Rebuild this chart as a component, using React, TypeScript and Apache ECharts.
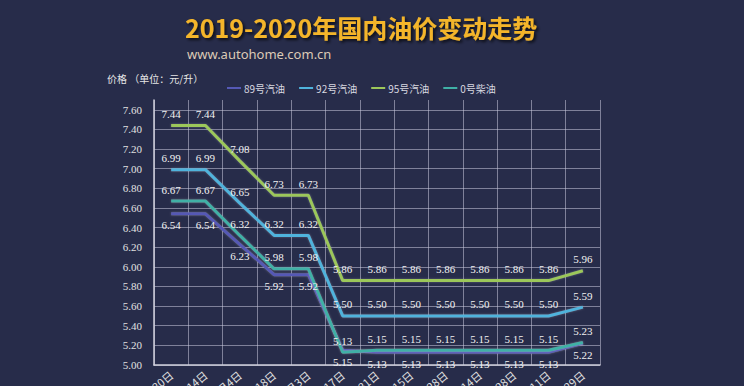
import React, { useEffect, useRef } from "react";
import * as echarts from "echarts";

const categories = ["12月30日", "1月14日", "2月4日", "2月18日", "3月3日", "3月17日", "3月31日", "4月15日", "4月28日", "5月14日", "5月28日", "6月11日", "6月29日"];
const gas89 = [6.54, 6.54, 6.23, 5.92, 5.92, 5.15, 5.13, 5.13, 5.13, 5.13, 5.13, 5.13, 5.22];
const gas92 = [6.99, 6.99, 6.65, 6.32, 6.32, 5.5, 5.5, 5.5, 5.5, 5.5, 5.5, 5.5, 5.59];
const gas95 = [7.44, 7.44, 7.08, 6.73, 6.73, 5.86, 5.86, 5.86, 5.86, 5.86, 5.86, 5.86, 5.96];
const diesel0 = [6.67, 6.67, 6.32, 5.98, 5.98, 5.13, 5.15, 5.15, 5.15, 5.15, 5.15, 5.15, 5.23];
const seriesNames = ["89号汽油", "92号汽油", "95号汽油", "0号柴油"];
const yTicks = { min: 5.0, max: 7.7, interval: 0.2 };

const colors = ["#5559b5", "#4fb3dc", "#9cc75a", "#3fb0a6"];

export default function App() {
  const ref = useRef<HTMLDivElement>(null);
  useEffect(() => {
    document.body.style.margin = "0";
    document.body.style.background = "#272c4a";
    const chart = echarts.init(ref.current!, null, { renderer: "svg" });
    const mk = (name: string, data: number[], color: string, pos: string) => ({
      name,
      type: "line",
      data,
      symbol: "circle",
      symbolSize: 0,
      showSymbol: true,
      itemStyle: { color },
      lineStyle: { color, width: 3, shadowColor: "rgba(255,255,255,0.25)", shadowBlur: 2 },
      label: {
        show: true,
        position: pos,
        distance: 6,
        color: "#f2f2f2",
        fontSize: 11,
        fontFamily: "Liberation Serif",
        formatter: (p: any) => Number(p.value).toFixed(2),
      },
      emphasis: { disabled: true },
    });
    chart.setOption({
      animation: false,
      backgroundColor: "#272c4a",
      title: [
        {
          text: "2019-2020年国内油价变动走势",
          left: 180,
          top: 8,
          textStyle: {
            color: "#f4b52a",
            fontSize: 25,
            fontWeight: "bold",
            fontFamily: "Noto Sans CJK SC",
            lineHeight: 28,
            textShadowColor: "rgba(0,0,0,0.7)",
            textShadowBlur: 3,
            textShadowOffsetX: 2,
            textShadowOffsetY: 2,
          },
        },
        {
          text: "www.autohome.com.cn",
          left: 182,
          top: 42,
          textStyle: { color: "#dccab6", fontSize: 13, fontWeight: "normal", fontFamily: "Noto Sans" },
        },
      ],
      graphic: [
        {
          type: "text",
          left: 107,
          top: 73,
          style: { text: "价格 （单位：元/升）", fill: "#e6e6e6", fontSize: 10, fontFamily: "Noto Sans CJK SC" },
        },
      ],
      legend: {
        top: 78,
        left: 222,
        itemGap: 14,
        itemWidth: 14,
        itemHeight: 2,
        icon: "rect",
        textStyle: { color: "#d8d8e0", fontSize: 10, fontFamily: "Noto Sans CJK SC", padding: [0, 0, 0, -2] },
        data: seriesNames,
      },
      grid: { left: 154, right: 144, top: 100, bottom: 21, containLabel: false, outerBoundsMode: "none" },
      xAxis: {
        type: "category",
        data: categories,
        boundaryGap: true,
        axisLine: { show: true, lineStyle: { color: "#d0d0dc", width: 1.5 } },
        axisTick: { show: false },
        splitLine: { show: true, lineStyle: { color: "rgba(200,200,220,0.55)", width: 1 } },
        axisLabel: { color: "#e0e0e0", fontSize: 11, rotate: 40, margin: 8, interval: 0, fontFamily: "Noto Sans CJK SC" },
      },
      yAxis: {
        type: "value",
        min: yTicks.min,
        max: yTicks.max,
        interval: yTicks.interval,
        axisLine: { show: true, lineStyle: { color: "#d0d0dc", width: 1.5 } },
        axisTick: { show: false },
        splitLine: { show: true, showMaxLine: false, lineStyle: { color: "rgba(200,200,220,0.55)", width: 1 } },
        axisLabel: {
          color: "#e0e0e0",
          fontSize: 11,
          margin: 12,
          showMaxLabel: false,
          fontFamily: "Liberation Serif",
          formatter: (v: number) => v.toFixed(2),
        },
      },
      series: [
        mk(seriesNames[0], gas89, colors[0], "bottom"),
        mk(seriesNames[1], gas92, colors[1], "top"),
        mk(seriesNames[2], gas95, colors[2], "top"),
        mk(seriesNames[3], diesel0, colors[3], "top"),
      ],
    });
    return () => chart.dispose();
  }, []);
  return <div ref={ref} style={{ position: "fixed", left: 0, top: 0, width: 744, height: 386 }} />;
}
